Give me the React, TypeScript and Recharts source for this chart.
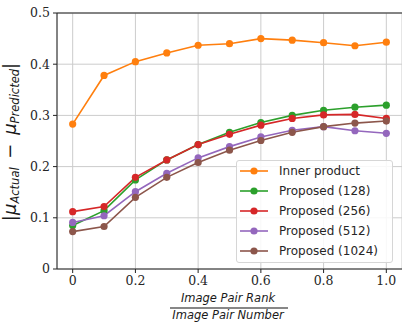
import { CartesianGrid, Legend, Line, LineChart, ReferenceLine, XAxis, YAxis } from 'recharts'

const ranks = [0, 0.1, 0.2, 0.3, 0.4, 0.5, 0.6, 0.7, 0.8, 0.9, 1.0]
const innerProduct = [0.283, 0.378, 0.405, 0.422, 0.437, 0.440, 0.450, 0.447, 0.442, 0.436, 0.443]
const proposed128 = [0.085, 0.114, 0.174, 0.213, 0.243, 0.267, 0.286, 0.300, 0.310, 0.316, 0.320]
const proposed256 = [0.112, 0.122, 0.179, 0.213, 0.243, 0.263, 0.281, 0.294, 0.301, 0.302, 0.294]
const proposed512 = [0.091, 0.104, 0.151, 0.187, 0.217, 0.239, 0.258, 0.271, 0.278, 0.270, 0.265]
const proposed1024 = [0.073, 0.083, 0.140, 0.179, 0.208, 0.232, 0.251, 0.267, 0.278, 0.285, 0.289]

const xTicks = [0, 0.2, 0.4, 0.6, 0.8, 1.0]
const yTicks = [0, 0.1, 0.2, 0.3, 0.4, 0.5]

const series = [
  { key: 'inner', name: 'Inner product', color: '#ff7f0e', values: innerProduct },
  { key: 'p128', name: 'Proposed (128)', color: '#2ca02c', values: proposed128 },
  { key: 'p256', name: 'Proposed (256)', color: '#d62728', values: proposed256 },
  { key: 'p512', name: 'Proposed (512)', color: '#9467bd', values: proposed512 },
  { key: 'p1024', name: 'Proposed (1024)', color: '#8c564b', values: proposed1024 },
]

const data = ranks.map((x, i) => {
  const row: Record<string, number> = { x }
  series.forEach((s) => (row[s.key] = s.values[i]))
  return row
})

const fmt = (v: number) => (v === 0 ? '0' : v.toFixed(1))
const tickStyle = { fontSize: 12.5, fill: '#262626', fontFamily: 'DejaVu Serif' }
const spine = '#222'

function YLabel() {
  return (
    <text
      transform="translate(16,142) rotate(-90)"
      textAnchor="middle"
      fontFamily="DejaVu Sans"
      fill="#1a1a1a"
      fontSize={18}
    >
      <tspan>|</tspan>
      <tspan fontStyle="italic">μ</tspan>
      <tspan fontStyle="italic" fontSize={11.5} dy={3}>Actual</tspan>
      <tspan dy={-3} dx={3}> − </tspan>
      <tspan fontStyle="italic" dx={3}>μ</tspan>
      <tspan fontStyle="italic" fontSize={11.5} dy={3}>Predicted</tspan>
      <tspan dy={-3}>|</tspan>
    </text>
  )
}

function XLabel() {
  return (
    <g fontFamily="DejaVu Sans" fontStyle="italic" fontSize={11.5} fill="#1a1a1a">
      <text x={228} y={302} textAnchor="middle">Image Pair Rank</text>
      <line x1={170} x2={288} y1={308} y2={308} stroke="#111" strokeWidth={1.2} />
      <text x={228} y={318.5} textAnchor="middle">Image Pair Number</text>
    </g>
  )
}

function LegendBox() {
  return (
    <div
      style={{
        border: '1px solid #d6d6d6',
        borderRadius: 3,
        background: 'rgba(255,255,255,0.85)',
        paddingBottom: 1,
        fontFamily: 'DejaVu Sans',
        fontSize: 12,
        color: '#262626',
      }}
    >
      {series.map((s) => (
        <div key={s.key} style={{ height: 20, display: 'flex', alignItems: 'center' }}>
          <svg width={28} height={10} style={{ marginLeft: 3, marginRight: 11 }}>
            <line x1={0} x2={28} y1={5} y2={5} stroke={s.color} strokeWidth={1.6} />
            <circle cx={14} cy={5} r={3.6} fill={s.color} />
          </svg>
          <span>{s.name}</span>
        </div>
      ))}
    </div>
  )
}

export default function App() {
  return (
    <div style={{ position: 'absolute', left: 0, top: 0, width: 402, height: 322, background: '#fff' }}>
      <LineChart width={402} height={322} data={data} margin={{ top: 13, right: 0, bottom: 0, left: 0 }}>
        <CartesianGrid stroke="#cccccc" strokeWidth={1} />
        <XAxis
          type="number"
          dataKey="x"
          domain={[-0.05, 1.05]}
          ticks={xTicks}
          tickFormatter={fmt}
          allowDataOverflow
          height={53}
          tick={tickStyle}
          tickSize={4}
          tickMargin={3}
          stroke={spine}
          label={{ content: () => <XLabel /> }}
        />
        <YAxis
          type="number"
          domain={[0, 0.5]}
          ticks={yTicks}
          tickFormatter={fmt}
          allowDataOverflow
          width={57}
          tick={tickStyle}
          tickSize={4}
          tickMargin={3}
          stroke={spine}
          label={{ content: () => <YLabel /> }}
        />
        <ReferenceLine y={0.5} stroke={spine} strokeWidth={1} />
        {series.map((s) => (
          <Line
            key={s.key}
            dataKey={s.key}
            name={s.name}
            stroke={s.color}
            strokeWidth={1.6}
            dot={{ r: 3.6, fill: s.color, stroke: s.color, strokeWidth: 0 }}
            isAnimationActive={false}
            type="linear"
          />
        ))}
        <Legend
          layout="vertical"
          align="center"
          verticalAlign="middle"
          content={() => <LegendBox />}
          wrapperStyle={{ position: 'absolute', left: 236, top: 160, width: 157, bottom: 'auto', right: 'auto' }}
        />
      </LineChart>
    </div>
  )
}
